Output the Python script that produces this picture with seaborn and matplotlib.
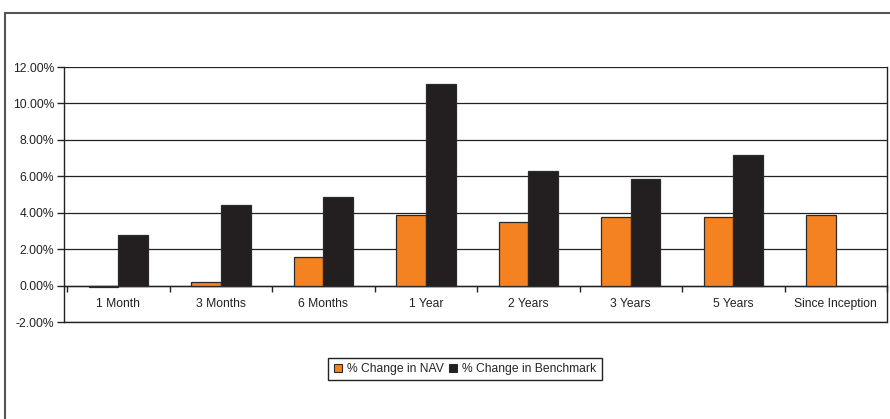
import matplotlib
matplotlib.use("Agg")
import matplotlib.pyplot as plt
import matplotlib.patches as mpatches
import numpy as np
import pandas as pd
import seaborn as sns

periods = ["1 Month", "3 Months", "6 Months", "1 Year", "2 Years",
           "3 Years", "5 Years", "Since Inception"]
nav_change = [-0.10, 0.17, 1.55, 3.85, 3.48, 3.78, 3.76, 3.89]
benchmark_change = [2.80, 4.42, 4.85, 11.05, 6.29, 5.87, 7.15, np.nan]
series_names = ["% Change in NAV", "% Change in Benchmark"]
y_ticks = [-2, 0, 2, 4, 6, 8, 10, 12]

df = pd.DataFrame({
    "Period": periods * 2,
    "Series": [series_names[0]] * len(periods) + [series_names[1]] * len(periods),
    "Value": nav_change + benchmark_change,
})

sns.set_theme(style="white")
plt.rcParams["font.family"] = ["Liberation Sans", "DejaVu Sans"]

fig = plt.figure(figsize=(8.9, 4.19), dpi=100)
ax = fig.add_axes([64 / 890, 1 - 322 / 419, (887 - 64) / 890, (322 - 67) / 419])

palette = {series_names[0]: "#F58220", series_names[1]: "#231F20"}
sns.barplot(data=df, x="Period", y="Value", hue="Series", order=periods,
            hue_order=series_names, palette=palette, width=0.58,
            edgecolor="#2a2a2a", linewidth=0.9, saturation=1, ax=ax,
            legend=False, zorder=3)

ax.set_ylim(-2, 12)
ax.set_xlim(-0.53, len(periods) - 0.53)
ax.set_yticks(y_ticks)
ax.set_yticklabels([f"{v:.2f}%" for v in y_ticks], fontsize=8.7, color="#222")
ax.yaxis.grid(True, color="#222222", linewidth=0.9)
ax.axhline(-2, color="#222222", linewidth=1.0, clip_on=False, zorder=2)
ax.set_axisbelow(True)
ax.set_xlabel("")
ax.set_ylabel("")

# Category axis sits on the zero line
ax.spines["bottom"].set_position(("data", 0))
for side in ["left", "right", "top", "bottom"]:
    ax.spines[side].set_color("#222222")
    ax.spines[side].set_linewidth(1.0)
ax.spines["top"].set_visible(False)

ax.set_xticks(range(len(periods)))
ax.set_xticklabels(periods, fontsize=8.7, color="#222")
ax.set_xticks(np.arange(-0.5, len(periods), 1.0), minor=True)
ax.tick_params(axis="x", which="major", length=0, pad=9)
ax.tick_params(axis="x", which="minor", length=4, width=1, color="#222",
               direction="out", bottom=True)
ax.tick_params(axis="y", length=5, width=1, color="#222", direction="out",
               left=True, pad=2)

handles = [mpatches.Patch(facecolor=palette[s], edgecolor="#2a2a2a",
                          linewidth=0.8) for s in series_names]
fig.legend(handles, series_names, loc="center", ncol=2,
           bbox_to_anchor=(465 / 890, 1 - 369 / 419), fontsize=8.7,
           frameon=True, fancybox=False, edgecolor="#222", framealpha=1,
           handlelength=0.7, handleheight=0.7, handletextpad=0.4,
           columnspacing=0.4, borderpad=0.45, borderaxespad=0)

# Outer chart frame
frame = mpatches.Rectangle((5 / 890, -0.05), 1.1, 1 - 13 / 419 + 0.05,
                           transform=fig.transFigure, fill=False,
                           edgecolor="#555555", linewidth=1.5, clip_on=False)
fig.patches.append(frame)

fig.savefig("out.png", dpi=100)
